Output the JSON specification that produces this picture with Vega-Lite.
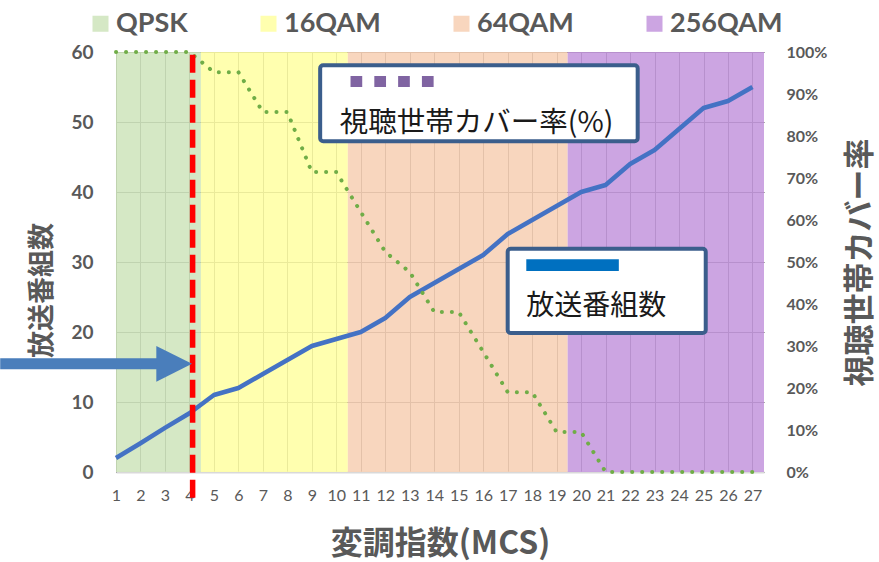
{
  "$schema": "https://vega.github.io/schema/vega-lite/v6.json",
  "width": 648,
  "height": 420,
  "autosize": "none",
  "padding": {"left": 116, "top": 52, "right": 115, "bottom": 90},
  "background": "white",
  "config": {
    "view": {"stroke": null},
    "font": "Lato, Noto Sans CJK JP",
    "axis": {"labelColor": "#595959", "titleColor": "#595959", "ticks": false, "domain": false, "gridColor": "#555555", "gridWidth": 1, "gridOpacity": 1},
    "axisX": {"grid": true, "labelFontSize": 16, "labelFont": "Lato", "labelPadding": 15, "labelOverlap": false, "labelFlush": false, "labelBound": false, "domain": true, "domainColor": "#d9d9d9", "domainWidth": 2, "titleFont": "Noto Sans CJK JP", "titleFontSize": 32, "titleFontWeight": "bold", "titlePadding": 25},
    "axisLeft": {"grid": true, "labelFontSize": 19, "labelFontWeight": "bold", "labelFont": "Lato", "labelPadding": 23, "titleFont": "Noto Sans CJK JP", "titleFontSize": 27, "titleFontWeight": "bold", "titlePadding": 14},
    "axisRight": {"grid": false, "labelFontSize": 16, "labelFontWeight": "bold", "labelFont": "Lato", "labelPadding": 22, "titleFont": "Noto Sans CJK JP", "titleFontSize": 31, "titleFontWeight": "bold", "titlePadding": 50, "titleAngle": 270}
  },
  "data": {"values": [{}]},
  "datasets": {
    "series": [
      {"mcs": 1, "programs": 2, "coverage": 100},
      {"mcs": 2, "programs": 4.1, "coverage": 100},
      {"mcs": 3, "programs": 6.3, "coverage": 100},
      {"mcs": 4, "programs": 8.4, "coverage": 100},
      {"mcs": 5, "programs": 11, "coverage": 95.2},
      {"mcs": 6, "programs": 12, "coverage": 95.2},
      {"mcs": 7, "programs": 14, "coverage": 85.7},
      {"mcs": 8, "programs": 16, "coverage": 85.7},
      {"mcs": 9, "programs": 18, "coverage": 71.4},
      {"mcs": 10, "programs": 19, "coverage": 71.4},
      {"mcs": 11, "programs": 20, "coverage": 61.9},
      {"mcs": 12, "programs": 22, "coverage": 52.4},
      {"mcs": 13, "programs": 25, "coverage": 47.6},
      {"mcs": 14, "programs": 27, "coverage": 38.1},
      {"mcs": 15, "programs": 29, "coverage": 38.1},
      {"mcs": 16, "programs": 31, "coverage": 28.6},
      {"mcs": 17, "programs": 34, "coverage": 19.0},
      {"mcs": 18, "programs": 36, "coverage": 19.0},
      {"mcs": 19, "programs": 38, "coverage": 9.5},
      {"mcs": 20, "programs": 40, "coverage": 9.5},
      {"mcs": 21, "programs": 41, "coverage": 0},
      {"mcs": 22, "programs": 44, "coverage": 0},
      {"mcs": 23, "programs": 46, "coverage": 0},
      {"mcs": 24, "programs": 49, "coverage": 0},
      {"mcs": 25, "programs": 52, "coverage": 0},
      {"mcs": 26, "programs": 53, "coverage": 0},
      {"mcs": 27, "programs": 55, "coverage": 0}
    ],
    "bands": [
      {"mod": "QPSK", "start": 0.5, "end": 4.47},
      {"mod": "16QAM", "start": 4.47, "end": 10.47},
      {"mod": "64QAM", "start": 10.47, "end": 19.45},
      {"mod": "256QAM", "start": 19.45, "end": 27.5}
    ]
  },
  "layer": [
    {
      "data": {"name": "bands"},
      "mark": {"type": "rect", "opacity": 0.88, "clip": true},
      "encoding": {
        "x": {
          "field": "start", "type": "quantitative",
          "scale": {"domain": [1, 27.47], "nice": false, "zero": false},
          "axis": {"title": "変調指数(MCS)", "values": [1,2,3,4,5,6,7,8,9,10,11,12,13,14,15,16,17,18,19,20,21,22,23,24,25,26,27]}
        },
        "x2": {"field": "end"},
        "y": {
          "datum": 0,
          "scale": {"domain": [0, 60], "nice": false, "zero": false},
          "axis": {"orient": "left", "title": "放送番組数", "values": [0, 10, 20, 30, 40, 50, 60], "titleY": 238}
        },
        "y2": {"datum": 60},
        "color": {
          "field": "mod", "type": "nominal",
          "scale": {"domain": ["QPSK", "16QAM", "64QAM", "256QAM"], "range": ["#CFE5BD", "#FFFFA4", "#F7D0B5", "#C599DE"]},
          "legend": {
            "orient": "none", "legendX": -29, "legendY": -42, "direction": "horizontal", "columns": 4,
            "title": null, "symbolType": "square", "symbolSize": 256, "symbolStrokeWidth": 0, "symbolOpacity": 0.88,
            "labelFontSize": 27, "labelFontWeight": "bold", "labelColor": "#595959", "labelFont": "Lato",
            "columnPadding": 67, "labelOffset": 2, "labelLimit": 0
          }
        }
      }
    },
    {
      "data": {"name": "series"},
      "mark": {"type": "line", "color": "#4472C4", "strokeWidth": 4.5, "strokeJoin": "round"},
      "encoding": {
        "x": {"field": "mcs", "type": "quantitative", "axis": {"title": "変調指数(MCS)", "values": [1,2,3,4,5,6,7,8,9,10,11,12,13,14,15,16,17,18,19,20,21,22,23,24,25,26,27]}},
        "y": {"field": "programs", "type": "quantitative", "scale": {"domain": [0, 60], "nice": false, "zero": false}, "axis": null}
      }
    },
    {
      "data": {"name": "series"},
      "mark": {"type": "line", "color": "#70AD47", "strokeWidth": 4, "strokeDash": [0.1, 9.9], "strokeCap": "round"},
      "encoding": {
        "x": {"field": "mcs", "type": "quantitative", "axis": {"title": "変調指数(MCS)", "values": [1,2,3,4,5,6,7,8,9,10,11,12,13,14,15,16,17,18,19,20,21,22,23,24,25,26,27]}},
        "y": {
          "field": "coverage", "type": "quantitative",
          "scale": {"domain": [0, 100], "nice": false, "zero": false},
          "axis": {"orient": "right", "title": "視聴世帯カバー率", "values": [0, 10, 20, 30, 40, 50, 60, 70, 80, 90, 100], "labelExpr": "datum.value + '%'"}
        }
      }
    },
    {
      "mark": {"type": "rule", "color": "#FF0000", "strokeWidth": 5.5, "strokeDash": [18, 7]},
      "encoding": {
        "x": {"datum": 4.13, "axis": {"title": "変調指数(MCS)", "values": [1,2,3,4,5,6,7,8,9,10,11,12,13,14,15,16,17,18,19,20,21,22,23,24,25,26,27]}},
        "y": {"datum": 59.6, "scale": {"domain": [0, 60], "nice": false, "zero": false}, "axis": null},
        "y2": {"datum": -4.4}
      }
    },
    {
      "mark": {"type": "rule", "color": "#4A7EBB", "strokeWidth": 11},
      "encoding": {
        "x": {"datum": -3.73, "axis": {"title": "変調指数(MCS)", "values": [1,2,3,4,5,6,7,8,9,10,11,12,13,14,15,16,17,18,19,20,21,22,23,24,25,26,27]}},
        "x2": {"datum": 2.9},
        "y": {"datum": 15.46, "scale": {"domain": [0, 60], "nice": false, "zero": false}, "axis": null}
      }
    },
    {
      "mark": {"type": "point", "shape": "M-1,-1L1,0L-1,1Z", "size": 1274, "filled": true, "color": "#4A7EBB", "opacity": 1, "strokeWidth": 0},
      "encoding": {
        "x": {"datum": 3.376, "axis": {"title": "変調指数(MCS)", "values": [1,2,3,4,5,6,7,8,9,10,11,12,13,14,15,16,17,18,19,20,21,22,23,24,25,26,27]}},
        "y": {"datum": 15.46, "scale": {"domain": [0, 60], "nice": false, "zero": false}, "axis": null}
      }
    },
    {
      "mark": {"type": "rect", "fill": "white", "stroke": "#3B5E8C", "strokeWidth": 4, "cornerRadius": 3},
      "encoding": {
        "x": {"datum": 9.34, "axis": {"title": "変調指数(MCS)", "values": [1,2,3,4,5,6,7,8,9,10,11,12,13,14,15,16,17,18,19,20,21,22,23,24,25,26,27]}},
        "x2": {"datum": 22.31},
        "y": {"datum": 58.1, "scale": {"domain": [0, 60], "nice": false, "zero": false}, "axis": null},
        "y2": {"datum": 47.24}
      }
    },
    {
      "mark": {"type": "rule", "color": "#8064A2", "strokeWidth": 11, "strokeDash": [11.7, 12.1]},
      "encoding": {
        "x": {"datum": 10.58, "axis": {"title": "変調指数(MCS)", "values": [1,2,3,4,5,6,7,8,9,10,11,12,13,14,15,16,17,18,19,20,21,22,23,24,25,26,27]}},
        "x2": {"datum": 13.98},
        "y": {"datum": 55.79, "scale": {"domain": [0, 60], "nice": false, "zero": false}, "axis": null}
      }
    },
    {
      "mark": {"type": "text", "text": "視聴世帯カバー率(%)", "align": "left", "baseline": "middle", "fontSize": 28.5, "font": "Noto Sans CJK JP", "color": "#1a1a1a"},
      "encoding": {
        "x": {"datum": 10.14, "axis": {"title": "変調指数(MCS)", "values": [1,2,3,4,5,6,7,8,9,10,11,12,13,14,15,16,17,18,19,20,21,22,23,24,25,26,27]}},
        "y": {"datum": 49.86, "scale": {"domain": [0, 60], "nice": false, "zero": false}, "axis": null}
      }
    },
    {
      "mark": {"type": "rect", "fill": "white", "stroke": "#3B5E8C", "strokeWidth": 4, "cornerRadius": 3},
      "encoding": {
        "x": {"datum": 17.0, "axis": {"title": "変調指数(MCS)", "values": [1,2,3,4,5,6,7,8,9,10,11,12,13,14,15,16,17,18,19,20,21,22,23,24,25,26,27]}},
        "x2": {"datum": 25.09},
        "y": {"datum": 31.9, "scale": {"domain": [0, 60], "nice": false, "zero": false}, "axis": null},
        "y2": {"datum": 19.86}
      }
    },
    {
      "mark": {"type": "rule", "color": "#0070C0", "strokeWidth": 11.7},
      "encoding": {
        "x": {"datum": 17.76, "axis": {"title": "変調指数(MCS)", "values": [1,2,3,4,5,6,7,8,9,10,11,12,13,14,15,16,17,18,19,20,21,22,23,24,25,26,27]}},
        "x2": {"datum": 21.54},
        "y": {"datum": 29.54, "scale": {"domain": [0, 60], "nice": false, "zero": false}, "axis": null}
      }
    },
    {
      "mark": {"type": "text", "text": "放送番組数", "align": "left", "baseline": "middle", "fontSize": 28, "font": "Noto Sans CJK JP", "color": "#1a1a1a"},
      "encoding": {
        "x": {"datum": 17.76, "axis": {"title": "変調指数(MCS)", "values": [1,2,3,4,5,6,7,8,9,10,11,12,13,14,15,16,17,18,19,20,21,22,23,24,25,26,27]}},
        "y": {"datum": 23.61, "scale": {"domain": [0, 60], "nice": false, "zero": false}, "axis": null}
      }
    }
  ],
  "resolve": {"scale": {"y": "independent"}}
}
